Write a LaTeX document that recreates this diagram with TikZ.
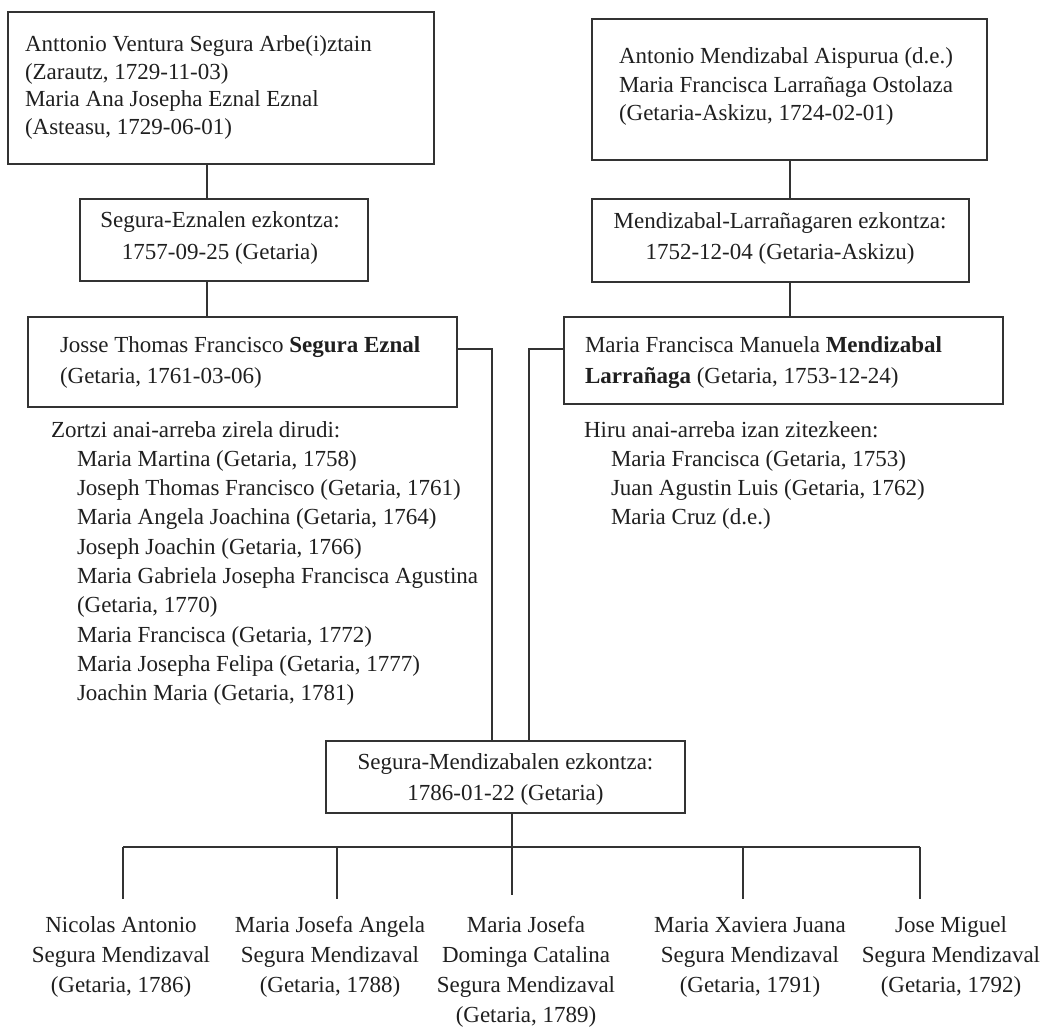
\documentclass[tikz,border=0pt]{standalone}
\usepackage{fontspec}
\setmainfont{Liberation Serif}
\begin{document}
\begin{tikzpicture}[x=1pt,y=-1pt,
  box/.style={draw=black!80,line width=1.2pt,inner sep=0pt,outer sep=0pt,anchor=north west},
  txt/.style={inner sep=0pt,outer sep=0pt,text=black!88,font=\fontsize{23}{27}\selectfont},
  tl/.style={txt,anchor=base west},
  tc/.style={txt,anchor=base},
  conn/.style={draw=black!80,line width=1.1pt}]
\useasboundingbox (0,0) rectangle (1040,1027);
% boxes
\node[box,minimum width=426pt,minimum height=152pt] (b1) at (8,12) {};
\node[box,minimum width=288pt,minimum height=82pt] (b2) at (80,199) {};
\node[box,minimum width=429pt,minimum height=90pt] (b3) at (28,317) {};
\node[box,minimum width=395pt,minimum height=141pt] (b4) at (592,19) {};
\node[box,minimum width=377pt,minimum height=83pt] (b5) at (592,199) {};
\node[box,minimum width=439pt,minimum height=87pt] (b6) at (564,317) {};
\node[box,minimum width=359pt,minimum height=72pt] (b7) at (326,741) {};
% box texts
\node[tl] (t1a) at (25,52) {Anttonio Ventura Segura Arbe(i)ztain};
\node[tl] (t1b) at (25,80) {(Zarautz, 1729-11-03)};
\node[tl] (t1c) at (25,107) {Maria Ana Josepha Eznal Eznal};
\node[tl] (t1d) at (25,135) {(Asteasu, 1729-06-01)};
\node[tc] (t2a) at (220,227) {Segura-Eznalen ezkontza:};
\node[tc] (t2b) at (220,259) {1757-09-25 (Getaria)};
\node[tl] (t3a) at (60,352) {Josse Thomas Francisco \textbf{Segura Eznal}};
\node[tl] (t3b) at (60,383) {(Getaria, 1761-03-06)};
\node[tl] (t4a) at (619,64) {Antonio Mendizabal Aispurua (d.e.)};
\node[tl] (t4b) at (619,92.5) {Maria Francisca Larrañaga Ostolaza};
\node[tl] (t4c) at (619,121) {(Getaria-Askizu, 1724-02-01)};
\node[tc] (t5a) at (780,228) {Mendizabal-Larrañagaren ezkontza:};
\node[tc] (t5b) at (780,259) {1752-12-04 (Getaria-Askizu)};
\node[tl] (t6a) at (585,352) {Maria Francisca Manuela \textbf{Mendizabal}};
\node[tl] (t6b) at (585,383) {\textbf{Larrañaga} (Getaria, 1753-12-24)};
\node[tc] (t7a) at (505.5,769) {Segura-Mendizabalen ezkontza:};
\node[tc] (t7b) at (505.5,800) {1786-01-22 (Getaria)};
% left list
\node[tl] (l0) at (51,437) {Zortzi anai-arreba zirela dirudi:};
\node[tl] (l1) at (77,466.3) {Maria Martina (Getaria, 1758)};
\node[tl] (l2) at (77,495.6) {Joseph Thomas Francisco (Getaria, 1761)};
\node[tl] (l3) at (77,524.9) {Maria Angela Joachina (Getaria, 1764)};
\node[tl] (l4) at (77,554.2) {Joseph Joachin (Getaria, 1766)};
\node[tl] (l5) at (77,583.5) {Maria Gabriela Josepha Francisca Agustina};
\node[tl] (l6) at (77,612.8) {(Getaria, 1770)};
\node[tl] (l7) at (77,642.1) {Maria Francisca (Getaria, 1772)};
\node[tl] (l8) at (77,671.4) {Maria Josepha Felipa (Getaria, 1777)};
\node[tl] (l9) at (77,700.7) {Joachin Maria (Getaria, 1781)};
% right list
\node[tl] (r0) at (584,437) {Hiru anai-arreba izan zitezkeen:};
\node[tl] (r1) at (611,466.3) {Maria Francisca (Getaria, 1753)};
\node[tl] (r2) at (611,495.6) {Juan Agustin Luis (Getaria, 1762)};
\node[tl] (r3) at (611,524.9) {Maria Cruz (d.e.)};
% children
\node[tc] (c1a) at (121,932) {Nicolas Antonio};
\node[tc] (c1b) at (121,962) {Segura Mendizaval};
\node[tc] (c1c) at (121,992) {(Getaria, 1786)};
\node[tc] (c2a) at (330,932) {Maria Josefa Angela};
\node[tc] (c2b) at (330,962) {Segura Mendizaval};
\node[tc] (c2c) at (330,992) {(Getaria, 1788)};
\node[tc] (c3a) at (526,932) {Maria Josefa};
\node[tc] (c3b) at (526,962) {Dominga Catalina};
\node[tc] (c3c) at (526,992) {Segura Mendizaval};
\node[tc] (c3d) at (526,1022) {(Getaria, 1789)};
\node[tc] (c4a) at (750,932) {Maria Xaviera Juana};
\node[tc] (c4b) at (750,962) {Segura Mendizaval};
\node[tc] (c4c) at (750,992) {(Getaria, 1791)};
\node[tc] (c5a) at (951,932) {Jose Miguel};
\node[tc] (c5b) at (951,962) {Segura Mendizaval};
\node[tc] (c5c) at (951,992) {(Getaria, 1792)};
% junction coordinates
\coordinate (jl) at (207,0);
\coordinate (jr) at (790,0);
\coordinate (j3) at (492,349);
\coordinate (j4) at (529,349);
\coordinate (jb) at (512,847);
\coordinate (d1) at (123,899);
\coordinate (d2) at (337,899);
\coordinate (d3) at (512,895);
\coordinate (d4) at (743,899);
\coordinate (d5) at (920,899);
% connectors
\draw[conn] (b1.south -| jl) -- (b2.north -| jl);
\draw[conn] (b2.south -| jl) -- (b3.north -| jl);
\draw[conn] (b4.south -| jr) -- (b5.north -| jr);
\draw[conn] (b5.south -| jr) -- (b6.north -| jr);
\draw[conn] (b3.east |- j3) -- (j3) -- (b7.north -| j3);
\draw[conn] (b6.west |- j4) -- (j4) -- (b7.north -| j4);
\draw[conn] (b7.south -| jb) -- (jb);
\draw[conn] (d1 |- jb) -- (d5 |- jb);
\draw[conn] (d1 |- jb) -- (d1);
\draw[conn] (d2 |- jb) -- (d2);
\draw[conn] (jb) -- (d3);
\draw[conn] (d4 |- jb) -- (d4);
\draw[conn] (d5 |- jb) -- (d5);
\end{tikzpicture}
\end{document}
